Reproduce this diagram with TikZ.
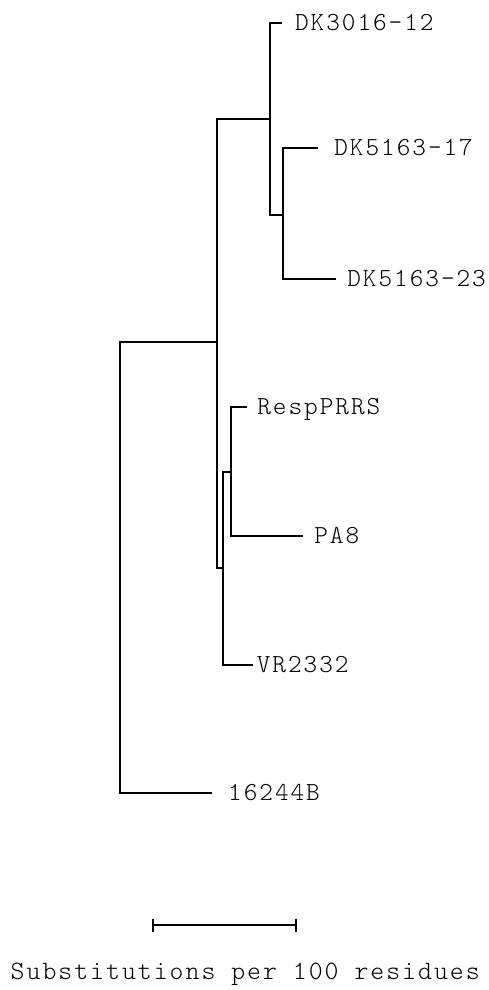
\documentclass[tikz,border=0pt]{standalone}
\usepackage{fontspec}
\newfontfamily\treefont[LetterSpace=7.5]{lmmonolt10-regular.otf}
\usetikzlibrary{arrows.meta,positioning}

\begin{document}
\begin{tikzpicture}[x=1pt, y=-1pt,
    branch/.style={line width=1.9pt},
    leaf/.style={anchor=west, inner sep=0pt, font=\treefont\fontsize{26}{26}\selectfont, text height=15pt, text depth=0pt}
  ]
  \useasboundingbox (0,0) rectangle (489,990);

  % internal nodes of the tree
  \coordinate (root) at (120,568);
  \coordinate (n1) at (216.7,342.3);
  \coordinate (n2) at (270,119.3);
  \coordinate (n3) at (223.3,568.3);
  \coordinate (n4) at (283.3,215);
  \coordinate (n5) at (230.7,472.3);

  % branch tips
  \coordinate (tDKa) at (281.7,22.7);
  \coordinate (tDKb) at (318.3,148);
  \coordinate (tDKc) at (336.3,279.3);
  \coordinate (tResp) at (246.7,406.7);
  \coordinate (tPA) at (303,536);
  \coordinate (tVR) at (253,665);
  \coordinate (tB) at (211.7,793.3);

  % leaf labels
  \node[leaf, right=13.2pt of tDKa] (DKa) {DK3016-12};
  \node[leaf, right=15.9pt of tDKb] (DKb) {DK5163-17};
  \node[leaf, right=10.9pt of tDKc] (DKc) {DK5163-23};
  \node[leaf, right=10.5pt of tResp] (Resp) {RespPRRS};
  \node[leaf, right=11.2pt of tPA] (PA) {PA8};
  \node[leaf, right=3.7pt of tVR] (VR) {VR2332};
  \node[leaf, right=16.3pt of tB] (B) {16244B};

  % branches
  \draw[branch] (root) |- (n1);
  \draw[branch] (root) |- (tB);
  \draw[branch] (n1) |- (n2);
  \draw[branch] (n1) |- (n3);
  \draw[branch] (n2) |- (tDKa);
  \draw[branch] (n2) |- (n4);
  \draw[branch] (n4) |- (tDKb);
  \draw[branch] (n4) |- (tDKc);
  \draw[branch] (n3) |- (n5);
  \draw[branch] (n3) |- (tVR);
  \draw[branch] (n5) |- (tResp);
  \draw[branch] (n5) |- (tPA);

  % scale bar
  \coordinate (sbl) at (151.7,925);
  \coordinate (sbr) at (296.7,925);
  \draw[branch, {Bar[width=13pt]}-{Bar[width=13pt]}] (sbl) -- (sbr);
  \node[leaf, anchor=base west, text height=, text depth=, font=\treefont\fontsize{26.5}{26.5}\selectfont] (caption) at (10.5,979) {Substitutions per 100 residues};
\end{tikzpicture}
\end{document}
